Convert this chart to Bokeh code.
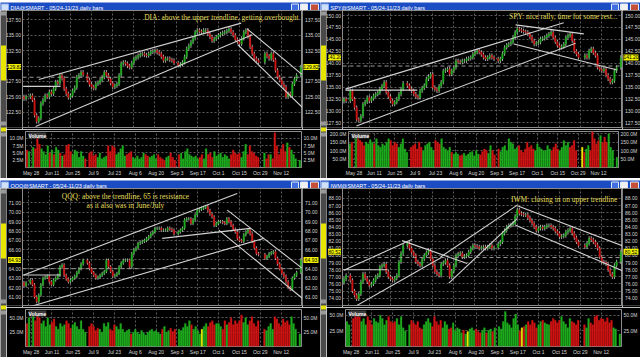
import numpy as np
import pandas as pd
from bokeh.plotting import figure
from bokeh.layouts import column, row
from bokeh.models import (FixedTicker, PrintfTickFormatter, LinearAxis, Span, Label,
                          ColumnDataSource, Range1d)
from bokeh.core.properties import value
from bokeh.embed import file_html
from bokeh.resources import INLINE

# ---------------- calendar ----------------
START, END = "2012-05-24", "2012-11-23"
HOLIDAYS = ["2012-05-28", "2012-07-04", "2012-09-03", "2012-10-29", "2012-10-30", "2012-11-22"]
DATE_TICKS = ["2012-05-28", "2012-06-11", "2012-06-25", "2012-07-09", "2012-07-23", "2012-08-06",
              "2012-08-20", "2012-09-03", "2012-09-17", "2012-10-01", "2012-10-15", "2012-10-29",
              "2012-11-12"]
DATE_LABELS = ["May 28", "Jun 11", "Jun 25", "Jul 9", "Jul 23", "Aug 6", "Aug 20", "Sep 3",
               "Sep 17", "Oct 1", "Oct 15", "Oct 29", "Nov 12"]

# ---------------- DIA ----------------
DIA_TITLE = "DIA@SMART - 05/24-11/23 daily bars"
DIA_FIRST_OPEN = 125.0
DIA_CLOSE = [124.7, 125.0,
             125.2, 124.5, 122.0, 121.0,
             121.5, 123.9, 124.5, 125.2, 125.0,
             125.8, 125.5, 126.3, 127.4, 127.2,
             128.5, 128.0, 126.3, 125.5, 124.9,
             125.2, 126.0, 126.5, 128.2, 128.5,
             129.0, 128.6, 127.7, 127.0,
             126.6, 126.4, 127.1, 127.3, 127.7,
             128.2, 129.0, 128.5, 127.9, 127.2,
             126.6, 126.8, 127.1, 128.5, 130.4,
             130.6, 130.4, 130.0, 129.8, 130.5,
             131.2, 131.4, 131.7, 131.9, 132.0,
             131.8, 131.7, 132.0, 132.3, 132.4,
             132.5, 132.2, 132.0, 131.5, 130.9,
             131.2, 131.2, 131.0, 130.9, 130.5,
             130.1, 130.3, 130.6, 131.5,
             132.8, 133.3, 133.9, 134.5, 135.5,
             135.8, 135.6, 135.5, 135.8, 135.8,
             135.2, 134.7, 134.1, 134.4, 134.7,
             135.0, 135.2, 135.4, 135.5, 135.7,
             136.0, 135.5, 135.0, 134.3, 133.9,
             133.6, 134.5, 135.5, 135.8, 134.8,
             133.1, 132.0, 131.2, 130.9, 130.6,
             132.0, 131.6, 131.2,
             132.0, 131.0, 129.3, 128.2, 127.7,
             127.0, 126.6, 125.0, 125.5, 125.2,
             127.1, 127.9, 128.5, 129.82]
DIA_VOL = [6.0, 5.5,
           7.0, 6.5, 10.8, 8.0,
           6.5, 5.5, 4.5, 7.5, 5.0,
           6.0, 4.5, 7.0, 6.0, 5.0,
           4.0, 4.5, 7.5, 8.0, 5.5,
           4.5, 6.0, 5.5, 3.5, 5.5,
           4.0, 3.0, 5.0, 5.5,
           4.0, 4.5, 3.5, 5.0, 3.0,
           3.5, 4.0, 7.5, 5.5, 7.5,
           7.0, 4.5, 5.0, 6.5, 7.5,
           4.0, 4.5, 5.0, 5.5, 3.5,
           3.0, 4.0, 3.0, 3.5, 5.0,
           4.5, 4.0, 3.5, 4.0, 4.5,
           3.0, 4.5, 3.5, 3.0, 2.5,
           3.5, 4.0, 5.0, 3.5, 2.5,
           4.5, 5.0, 3.0, 5.5,
           6.5, 4.5, 4.0, 3.5, 4.0,
           3.0, 3.5, 4.5, 3.0, 6.5,
           4.5, 5.0, 3.5, 5.5, 4.0,
           4.5, 5.0, 3.5, 4.5, 4.0,
           3.0, 4.5, 6.0, 5.0, 4.5,
           5.0, 3.5, 5.5, 8.0, 4.5,
           7.5, 5.5, 5.0, 4.0, 3.5,
           5.0, 3.0, 4.5,
           4.5, 3.0, 12.0, 7.5, 4.5,
           6.5, 8.0, 5.5, 8.5, 7.0,
           6.0, 4.5, 3.0, 2.5]
DIA_LINES_X0 = [7.0, 5.5, -0.4, 105.6, 101.2]
DIA_LINES_Y0 = [127.8, 120.2, 126.7, 136.04, 133.45]
DIA_LINES_X1 = [102.8, 108.0, 17.3, 131.7, 131.7]
DIA_LINES_Y1 = [136.96, 135.07, 126.7, 128.6, 123.3]
DIA_REF = 128.18
DIA_NOTES = ["DIA: above the upper trendline, getting overbought"]

# ---------------- SPY ----------------
SPY_TITLE = "SPY@SMART - 05/24-11/23 daily bars"
SPY_FIRST_OPEN = 132.0
SPY_CLOSE = [132.5, 132.1,
             134.2, 132.5, 130.7, 128.2,
             128.0, 128.9, 131.4, 131.9, 132.8,
             132.1, 132.6, 133.2, 133.5, 133.8,
             134.6, 135.2, 136.0, 133.9, 133.0,
             132.1, 131.4, 131.8, 132.5, 133.5,
             134.6, 135.8, 135.3, 134.6,
             134.2, 133.5, 133.0, 132.8, 134.2,
             134.8, 135.3, 136.7, 137.2, 137.7,
             134.9, 134.5, 134.2, 135.2, 136.0,
             138.4, 138.6, 138.8, 137.7, 138.4,
             139.1, 140.5, 140.3, 140.2, 140.5,
             140.5, 140.9, 141.0, 141.2, 141.9,
             142.3, 142.6, 142.3, 141.8, 141.2,
             140.9, 141.2, 141.6, 141.2, 140.9,
             140.5, 140.9, 142.0, 143.3,
             143.8, 144.0, 144.4, 145.5, 146.5,
             147.2, 147.0, 146.8, 146.6, 146.5,
             146.1, 145.5, 144.7, 144.0, 144.2,
             144.4, 145.1, 145.2, 145.4, 145.8,
             146.1, 146.5, 145.4, 144.5, 143.7,
             143.3, 143.5, 144.0, 145.4, 145.8,
             146.1, 144.7, 142.5, 141.9, 141.2,
             141.6, 141.2, 142.6,
             143.0, 142.2, 141.6, 139.1, 138.7,
             138.4, 138.8, 137.5, 136.7, 136.0,
             136.3, 138.4, 139.1, 141.20]
SPY_VOL = [140, 150,
           180, 195, 160, 150,
           130, 150, 140, 165, 150,
           140, 170, 130, 120, 140,
           130, 150, 170, 160, 130,
           150, 140, 120, 140, 170,
           110, 90, 120, 130,
           140, 110, 150, 120, 100,
           130, 140, 150, 120, 100,
           160, 150, 140, 170, 120,
           110, 100, 120, 90, 80,
           90, 80, 70, 75, 85,
           70, 80, 90, 95, 70,
           100, 80, 75, 95, 110,
           100, 85, 130, 100, 75,
           110, 95, 120, 130,
           100, 170, 150, 140, 110,
           120, 130, 100, 90, 110,
           150, 120, 130, 110, 100,
           140, 120, 110, 100, 100,
           130, 110, 100, 120, 140,
           110, 100, 120, 160, 130,
           150, 120, 130, 160, 100,
           120, 90, 110,
           130, 100, 215, 170, 140,
           160, 190, 150, 180, 150,
           200, 120, 100, 60]
SPY_YELLOW = ["2012-10-31"]
SPY_LINES_X0 = [0.7, 5.9, 0.7, 81.2, 80.4]
SPY_LINES_Y0 = [134.56, 126.84, 134.35, 148.04, 144.04]
SPY_LINES_X1 = [104.0, 109.6, 34.7, 113.5, 129.3]
SPY_LINES_Y1 = [148.46, 144.18, 134.35, 146.14, 138.56]
SPY_REF = 139.4
SPY_NOTES = ["SPY: nice rally, time for some rest..."]

# ---------------- QQQ ----------------
QQQ_TITLE = "QQQ@SMART - 05/24-11/23 daily bars"
QQQ_FIRST_OPEN = 62.5
QQQ_CLOSE = [62.2, 62.5,
             62.8, 62.3, 61.0, 60.5,
             61.2, 62.3, 63.0, 63.1, 63.2,
             62.6, 62.3, 62.8, 63.0, 63.3,
             64.2, 64.4, 63.3, 62.9, 62.6,
             62.8, 63.0, 63.2, 63.6, 64.0,
             64.5, 64.9, 64.6, 64.0,
             63.6, 63.3, 63.0, 63.1, 63.3,
             63.5, 63.7, 64.9, 64.2, 63.7,
             63.2, 63.3, 63.5, 64.2, 64.6,
             64.9, 64.9, 64.9, 64.2, 65.6,
             66.0, 66.2, 66.7, 66.8, 66.9,
             67.0, 67.2, 67.4, 67.7, 67.9,
             68.3, 68.3, 68.3, 68.1, 68.1,
             68.1, 68.3, 68.2, 68.1, 67.7,
             67.9, 68.1, 68.3, 69.2,
             69.3, 69.3, 68.8, 69.2, 69.7,
             70.2, 70.3, 70.4, 70.5, 70.6,
             70.2, 69.8, 69.5, 68.6, 68.8,
             69.0, 69.0, 68.9, 68.8, 69.3,
             69.0, 68.6, 68.2, 67.9, 67.2,
             67.0, 66.9, 67.6, 67.9, 68.1,
             67.7, 66.9, 66.2, 65.6, 65.5,
             65.1, 65.3, 65.6,
             65.7, 65.8, 65.1, 64.5, 64.0,
             63.5, 63.2, 62.6, 62.0, 61.8,
             63.0, 63.3, 63.6, 64.93]
QQQ_VOL = [40, 50,
           55, 45, 55, 50,
           40, 45, 35, 50, 38,
           42, 48, 35, 30, 40,
           35, 38, 45, 40, 32,
           38, 42, 35, 30, 45,
           30, 25, 35, 40,
           35, 28, 32, 30, 25,
           40, 35, 42, 30, 28,
           38, 35, 30, 40, 30,
           25, 28, 30, 22, 25,
           30, 25, 22, 28, 24,
           20, 25, 28, 30, 26,
           28, 24, 22, 30, 35,
           25, 28, 32, 26, 30,
           30, 28, 33, 40,
           35, 45, 38, 30, 35,
           28, 22, 30, 35, 40,
           35, 42, 45, 38, 40,
           40, 35, 30, 45, 38,
           42, 50, 38, 45, 40,
           45, 55, 42, 50, 38,
           45, 52, 40, 35, 45,
           30, 28, 35,
           40, 30, 52, 48, 40,
           35, 48, 42, 45, 38,
           52, 40, 30, 22]
QQQ_YELLOW = ["2012-09-19"]
QQQ_LINES_X0 = [-0.1, 3.1, -0.8, 65.4, 96.2, 92.2]
QQQ_LINES_Y0 = [63.33, 59.98, 63.33, 67.22, 70.22, 68.10]
QQQ_LINES_X1 = [100.9, 113.5, 17.3, 107.2, 131.7, 131.7]
QQQ_LINES_Y1 = [71.99, 67.22, 63.33, 68.28, 64.04, 60.86]
QQQ_REF = 64.0
QQQ_NOTES = ["QQQ: above the trendline, 65 is resistance", "as it also was in June/July"]

# ---------------- IWM ----------------
IWM_TITLE = "IWM@SMART - 05/24-11/23 daily bars"
IWM_FIRST_OPEN = 76.2
IWM_CLOSE = [76.7, 77.2,
             76.5, 75.0, 74.4, 73.9,
             74.6, 76.3, 77.4, 76.8, 76.3,
             75.8, 76.0, 76.5, 77.0, 77.2,
             78.4, 78.6, 78.8, 77.7, 77.0,
             76.7, 76.5, 76.8, 77.2, 79.1,
             80.3, 81.4, 81.7, 81.0,
             80.4, 80.0, 79.1, 78.8, 78.6,
             79.5, 80.0, 80.4, 80.7, 79.5,
             78.6, 77.7, 77.4, 77.2, 78.8,
             79.0, 79.3, 78.6, 77.0, 77.8,
             78.6, 80.0, 80.2, 80.3, 79.8,
             79.9, 80.0, 80.5, 81.0, 81.4,
             81.3, 81.2, 81.0, 81.1, 81.2,
             81.0, 81.2, 81.4, 81.0, 81.1,
             81.6, 81.9, 83.1, 83.5,
             84.0, 84.2, 84.3, 84.5, 85.5,
             86.4, 85.9, 85.8, 85.7, 85.7,
             85.3, 84.9, 84.5, 84.0, 83.5,
             83.8, 84.0, 83.8, 84.0, 84.2,
             84.2, 84.0, 83.8, 83.4, 83.1,
             82.6, 82.7, 82.8, 83.3, 83.5,
             83.8, 83.1, 82.5, 81.9, 81.4,
             81.2, 81.7, 82.4,
             82.2, 81.9, 81.5, 81.0, 79.8,
             79.1, 79.0, 78.8, 78.0, 77.4,
             77.0, 78.6, 79.1, 80.52]
IWM_VOL = [40, 35,
           45, 50, 52, 48,
           40, 45, 35, 48, 42,
           35, 45, 40, 38, 50,
           45, 35, 42, 48, 40,
           38, 40, 45, 35, 48,
           30, 25, 35, 42,
           38, 35, 40, 30, 28,
           35, 40, 45, 38, 32,
           48, 40, 35, 42, 30,
           40, 35, 28, 30, 38,
           25, 30, 28, 22, 26,
           20, 24, 28, 30, 25,
           28, 24, 22, 26, 30,
           22, 26, 28, 24, 30,
           32, 28, 40, 56,
           38, 35, 30, 45, 52,
           35, 25, 30, 32, 35,
           40, 35, 42, 38, 30,
           35, 40, 42, 38, 36,
           35, 40, 45, 42, 38,
           42, 48, 40, 36, 30,
           45, 40, 38, 35, 42,
           35, 30, 45,
           38, 35, 48, 50, 42,
           45, 44, 40, 46, 38,
           42, 30, 28, 20]
IWM_YELLOW = ["2012-08-14", "2012-09-19"]
IWM_LINES_X0 = [-0.1, 5.5, 27.5, 45.7, 49.6, 82.0, 81.2, -0.4]
IWM_LINES_Y0 = [77.91, 72.88, 82.08, 79.78, 76.11, 86.97, 84.24, 78.0]
IWM_LINES_X1 = [32.3, 46.5, 58.3, 82.0, 82.0, 133.2, 133.2, 20.5]
IWM_LINES_Y1 = [82.27, 79.78, 78.88, 87.06, 85.18, 81.19, 77.67, 78.0]
IWM_REF = 79.7
IWM_NOTES = ["IWM: closing in on upper trendline"]

# ---------------- styling ----------------
UP, DOWN, FLAT = "#1eab1e", "#cf1414", "#e8e800"
WICK = "#bdbdbd"
TITLE_BLUE = "#1a4cc4"
AXIS_TXT = "#d6d6d6"
GRID = "#5c5c5c"
NOTE = "#e4df5c"
STRIP = "#4a4a4a"
TAG = "#f0f000"
FONT = "Liberation Sans"
X_RANGE = (-0.7, 131.8)
TITLE_H = 10
P_H = 119
BL, BR, BT, BB = 16, 18, 0, 2
FRAME_W = 280

weekdays = pd.bdate_range(START, END)
hol = pd.to_datetime(HOLIDAYS)
trading = weekdays[~weekdays.isin(hol)]
xpos = np.array([weekdays.get_loc(d) for d in trading])
tick_pos = [int(weekdays.get_loc(pd.Timestamp(d))) for d in DATE_TICKS]


def style_axis(ax, fmt, ticks):
    ax.ticker = FixedTicker(ticks=ticks)
    ax.formatter = PrintfTickFormatter(format=fmt)
    ax.major_label_text_font_size = "5px"
    ax.major_label_text_font = FONT
    ax.major_label_text_color = AXIS_TXT
    ax.axis_line_color = None
    ax.major_tick_line_color = None
    ax.minor_tick_line_color = None
    ax.major_tick_out = 0
    ax.major_tick_in = 0
    ax.major_label_standoff = 2


def bare_fig(w, h, xr, yr, bg, **kw):
    f = figure(width=w, height=h, x_range=xr, y_range=yr, toolbar_location=None,
               output_backend="svg", x_axis_location=None, y_axis_location=None,
               background_fill_color=bg, border_fill_color=bg, outline_line_color=None, **kw)
    f.grid.visible = False
    return f


def price_scale(y_range, y_ticks, last, width, text_x, align, tag_cx, tag_w):
    """Price-scale strip sharing the price pane's y scale: tick labels + last-price tag."""
    f = bare_fig(width, P_H, Range1d(0, width), y_range, "black",
                 min_border_left=0, min_border_right=0, min_border_top=BT, min_border_bottom=BB)
    f.text(x=[text_x] * len(y_ticks), y=y_ticks, text=[f"{t:.2f}" for t in y_ticks],
           text_align=align, text_baseline="middle", text_font_size="5px",
           text_color=AXIS_TXT, text_font=value(FONT))
    f.rect(x=[tag_cx], y=[last], width=tag_w, height=6, height_units="screen",
           fill_color=TAG, line_color=None)
    f.text(x=[tag_cx], y=[last], text=[f"{last:.2f}"], text_align="center",
           text_baseline="middle", text_font_size="5px", text_color="black",
           text_font=value(FONT))
    return f


def build_panel(title, close, first_open, vol, wick, y_rng, y_ticks, v_rng, v_ticks, v_fmt,
                lx0, ly0, lx1, ly1, ref, notes, note_pos, yellow, bottom):
    close = np.asarray(close, float)
    vol = np.asarray(vol, float)
    assert len(close) == len(xpos) == len(vol)
    opn = np.r_[first_open, close[:-1]]
    top = np.maximum(opn, close)
    bot = np.minimum(opn, close)
    col = np.where(close >= opn, UP, DOWN)
    vcol = col.copy()
    for d in yellow:
        vcol[xpos == weekdays.get_loc(pd.Timestamp(d))] = FLAT
    src = ColumnDataSource(dict(x=xpos, top=top, bot=bot, hi=top + wick, lo=bot - wick,
                                col=col, vol=vol, vcol=vcol))

    vol_h = 50 if bottom else 49
    # title bar
    t = bare_fig(320, TITLE_H, Range1d(0, 320), Range1d(0, TITLE_H), TITLE_BLUE, min_border=0)
    t.quad(left=[1], right=[8], bottom=[1.5], top=[8.5], fill_color="#cfe0f8", line_color="#8fb0e8")
    t.quad(left=[291, 300, 310], right=[298, 307, 318], bottom=[1.5, 1.5, 1.5], top=[8.5, 8.5, 8.5],
           fill_color=["#3f6fe0", "#f2f2f2", "#c4503a"], line_color="#e0e8f8")
    t.add_layout(Label(x=10, y=5, text=title, text_baseline="middle", text_color="white",
                       text_font_size="5.5px", text_font=FONT))

    # left tool strip
    s = bare_fig(6, P_H + vol_h, Range1d(0, 6), Range1d(P_H + vol_h, 0), STRIP, min_border=0)
    s.quad(left=[0.5, 0.5, 0.5, 0.5, 0.5], right=[5.5, 5.5, 5.5, 5.5, 5.5],
           top=[1, 35, 111, 117, 122], bottom=[5, 70, 115, 121, 126],
           fill_color=["#9a9a9a", "#e6e600", "#9a9a9a", "#e6e600", "#9a9a9a"],
           line_color=None)

    # price pane
    p = figure(width=FRAME_W, height=P_H, x_range=Range1d(*X_RANGE), y_range=Range1d(*y_rng),
               toolbar_location=None, output_backend="svg", x_axis_location=None,
               y_axis_location=None, min_border_left=0, min_border_right=0,
               min_border_top=BT, min_border_bottom=BB,
               background_fill_color="black", border_fill_color="black",
               outline_line_color="#8c8c8c")
    for g in (p.xgrid, p.ygrid):
        g.grid_line_color = GRID
        g.grid_line_dash = "2 2"
    p.xgrid.ticker = FixedTicker(ticks=tick_pos)
    p.ygrid.ticker = FixedTicker(ticks=y_ticks)
    p.add_layout(Span(location=ref, dimension="width", line_color="#9a9a9a",
                      line_dash="4 3", line_width=1))
    p.segment(x0="x", y0="lo", x1="x", y1="hi", line_color=WICK, line_width=0.9, source=src)
    p.vbar(x="x", width=0.7, top="top", bottom="bot", fill_color="col", line_color="col",
           line_width=0.4, source=src)
    p.segment(x0=lx0, y0=ly0, x1=lx1, y1=ly1, line_color="#d2d2d2", line_width=1.1)
    for i, n in enumerate(notes):
        nx, ny, al = note_pos[i]
        p.add_layout(Label(x=nx, y=ny, text=n, text_align=al, text_baseline="middle",
                           text_color=NOTE, text_font_size="7.5px",
                           text_font="Liberation Serif"))
    last = float(close[-1])
    lax = price_scale(p.y_range, y_ticks, last, BL, 14.5, "right", 8, 13)
    rax = price_scale(p.y_range, y_ticks, last, BR, 2.5, "left", 8.5, 15)

    # volume pane
    v = figure(width=BL + FRAME_W + BR, height=vol_h, x_range=p.x_range, y_range=Range1d(*v_rng),
               toolbar_location=None, output_backend="svg",
               min_border_left=BL, min_border_right=BR, min_border_top=2,
               min_border_bottom=vol_h - 2 - (39 if bottom else 37),
               background_fill_color="black", border_fill_color="black",
               outline_line_color="#8c8c8c")
    style_axis(v.yaxis[0], v_fmt, v_ticks)
    rv = LinearAxis()
    style_axis(rv, v_fmt, v_ticks)
    v.add_layout(rv, "right")
    xa = v.xaxis[0]
    xa.ticker = FixedTicker(ticks=tick_pos)
    xa.major_label_overrides = {t_: l_ for t_, l_ in zip(tick_pos, DATE_LABELS)}
    xa.major_label_text_font_size = "5px"
    xa.major_label_text_font = FONT
    xa.major_label_text_color = AXIS_TXT
    xa.axis_line_color = None
    xa.major_tick_line_color = None
    xa.minor_tick_line_color = None
    xa.major_tick_out = 0
    xa.major_tick_in = 0
    xa.major_label_standoff = 2
    for g in (v.xgrid, v.ygrid):
        g.grid_line_color = GRID
        g.grid_line_dash = "2 2"
    v.xgrid.ticker = FixedTicker(ticks=tick_pos)
    v.ygrid.ticker = FixedTicker(ticks=v_ticks)
    v.vbar(x="x", width=0.85, top="vol", bottom=0, fill_color="vcol", line_color="vcol",
           line_width=0.3, source=src)
    v.add_layout(Label(x=X_RANGE[0], y=v_rng[1], x_offset=3, y_offset=-1, text="Volume",
                       text_align="left", text_baseline="top", text_font_size="5px",
                       text_font_style="bold", text_color="white", text_font=FONT,
                       background_fill_color="#3a3a3a"))

    return column(t, row(s, column(row(lax, p, rax), v)))


dia = build_panel(DIA_TITLE, DIA_CLOSE, DIA_FIRST_OPEN, DIA_VOL, 0.35, (120.02, 139.01),
                  [122.5, 125.0, 127.5, 130.0, 132.5, 135.0, 137.5], (0, 12.4),
                  [2.5, 5.0, 7.5, 10.0], "%.1fM",
                  DIA_LINES_X0, DIA_LINES_Y0, DIA_LINES_X1, DIA_LINES_Y1, DIA_REF,
                  DIA_NOTES, [(129.9, 137.9, "right")], [], False)
spy = build_panel(SPY_TITLE, SPY_CLOSE, SPY_FIRST_OPEN, SPY_VOL, 0.45, (126.51, 151.05),
                  [127.5, 130.0, 132.5, 135.0, 137.5, 140.0, 142.5, 145.0, 147.5, 150.0],
                  (0, 213), [50, 100, 150, 200], "%.1fM",
                  SPY_LINES_X0, SPY_LINES_Y0, SPY_LINES_X1, SPY_LINES_Y1, SPY_REF,
                  SPY_NOTES, [(129.4, 149.8, "right")], SPY_YELLOW, False)
qqq = build_panel(QQQ_TITLE, QQQ_CLOSE, QQQ_FIRST_OPEN, QQQ_VOL, 0.18, (60.09, 72.52),
                  [61, 62, 63, 64, 65, 66, 67, 68, 69, 70, 71], (0, 64.5), [25, 50], "%.1fM",
                  QQQ_LINES_X0, QQQ_LINES_Y0, QQQ_LINES_X1, QQQ_LINES_Y1, QQQ_REF,
                  QQQ_NOTES, [(48.0, 71.64, "center"), (48.0, 70.75, "center")], QQQ_YELLOW, True)
iwm = build_panel(IWM_TITLE, IWM_CLOSE, IWM_FIRST_OPEN, IWM_VOL, 0.3, (72.97, 89.40),
                  list(range(74, 89)), (0, 59.4), [25, 50], "%.1fM",
                  IWM_LINES_X0, IWM_LINES_Y0, IWM_LINES_X1, IWM_LINES_Y1, IWM_REF,
                  IWM_NOTES, [(129.4, 87.9, "right")], IWM_YELLOW, True)

root = column(row(dia, spy), row(qqq, iwm))
open("out.html", "w").write(file_html(root, INLINE))
